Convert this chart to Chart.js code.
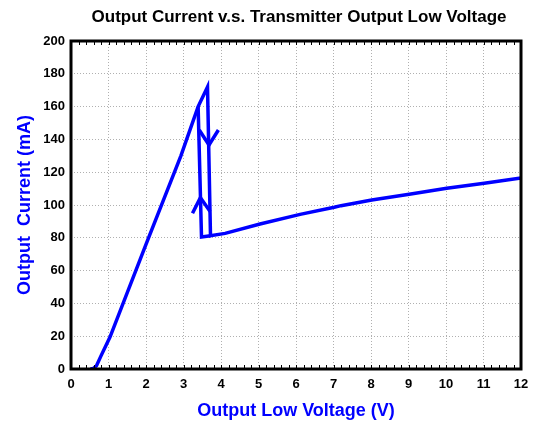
<!DOCTYPE html>
<html>
<head>
<meta charset="utf-8">
<script src="https://cdn.jsdelivr.net/npm/chart.js@4/dist/chart.umd.min.js"></script>
<style>
  html, body { margin: 0; padding: 0; background: #fff; }
  #wrap { width: 537px; height: 425px; }
</style>
</head>
<body>
<div id="wrap"><canvas id="c" width="537" height="425"></canvas></div>
<script>
// ---- data ----
const titleText = "Output Current v.s. Transmitter Output Low Voltage";
const xTitle = "Output Low Voltage (V)";
const yTitle = "Output  Current (mA)";
const xTicks = [0,1,2,3,4,5,6,7,8,9,10,11,12];
const yTicks = [0,20,40,60,80,100,120,140,160,180,200];

// main curve: rise, peak, drop, then slow rise
const mainV = [0.52, 0.60, 0.68, 0.80, 1.04, 2.00, 2.93, 3.39, 3.64, 3.72, 4.11, 5.04, 6.11, 7.02, 7.20, 8.02, 9.02, 10.02, 11.02, 12.00];
const mainI = [0.0, 0.4, 2.0, 8.0, 19.5, 76.0, 130.0, 160.0, 172.0, 81.3, 82.7, 88.4, 94.3, 98.6, 99.6, 103.1, 106.5, 110.2, 113.2, 116.5];
// left (return) branch
const leftV = [3.39, 3.48, 3.72];
const leftI = [160.0, 80.5, 81.3];
// arrow heads
const upArrowV = [3.24, 3.45, 3.71];
const upArrowI = [95.0, 104.5, 96.0];
const downArrowV = [3.42, 3.68, 3.93];
const downArrowI = [145.7, 136.6, 145.7];

const toXY = (xs, ys) => xs.map((x, i) => ({x: x, y: ys[i]}));
const BLUE = '#0000ff';
const FONT = "'Liberation Sans', Arial, sans-serif";

function ds(xs, ys) {
  return {
    data: toXY(xs, ys),
    showLine: true,
    borderColor: BLUE,
    backgroundColor: BLUE,
    borderWidth: 3.5,
    pointRadius: 0,
    tension: 0,
    fill: false
  };
}

const framePlugin = {
  id: 'frame',
  afterDraw(chart) {
    const {ctx, chartArea: a, scales} = chart;
    const xs = scales.x;
    ctx.save();
    // minor ticks on top and bottom edges
    ctx.strokeStyle = '#000';
    ctx.lineWidth = 1;
    ctx.beginPath();
    for (let k = 0; k <= 60; k++) {
      const v = k * 0.2;
      const px = Math.round(xs.getPixelForValue(v)) + 0.5;
      ctx.moveTo(px, a.bottom); ctx.lineTo(px, a.bottom - 4);
      ctx.moveTo(px, a.top); ctx.lineTo(px, a.top + 4);
    }
    ctx.stroke();
    // frame
    ctx.lineWidth = 3;
    ctx.strokeRect(a.left, a.top, a.right - a.left, a.bottom - a.top);
    // title
    ctx.fillStyle = '#000';
    ctx.font = "bold 17px " + FONT;
    ctx.textAlign = 'center';
    ctx.textBaseline = 'middle';
    ctx.fillText(titleText, (a.left + a.right) / 2 + 3, 17);
    ctx.restore();
  }
};

new Chart(document.getElementById('c'), {
  type: 'scatter',
  data: {
    datasets: [
      ds(mainV, mainI),
      ds(leftV, leftI),
      ds(upArrowV, upArrowI),
      ds(downArrowV, downArrowI)
    ]
  },
  options: {
    responsive: false,
    animation: false,
    devicePixelRatio: 1,
    layout: { padding: { top: 41, right: 16, bottom: 0, left: 0 } },
    plugins: {
      legend: { display: false },
      title: { display: false },
      tooltip: { enabled: false }
    },
    scales: {
      x: {
        type: 'linear',
        min: 0, max: 12,
        afterBuildTicks(scale) { scale.ticks = xTicks.map(v => ({value: v})); },
        afterFit(scale) { scale.height = 56; },
        ticks: {
          color: '#000',
          font: { family: FONT, size: 13, weight: 'bold' },
          padding: 8,
          maxRotation: 0,
          autoSkip: false
        },
        grid: {
          color: '#b0b0b0',
          lineWidth: 1,
          drawTicks: false
        },
        border: { display: false, dash: [1, 2] },
        title: {
          display: true,
          text: xTitle,
          color: BLUE,
          font: { family: FONT, size: 18, weight: 'bold' },
          padding: { top: 3, bottom: 3 }
        }
      },
      y: {
        type: 'linear',
        min: 0, max: 200,
        afterBuildTicks(scale) { scale.ticks = yTicks.map(v => ({value: v})); },
        afterFit(scale) { scale.width = 71; },
        ticks: {
          color: '#000',
          font: { family: FONT, size: 13, weight: 'bold' },
          padding: 6,
          autoSkip: false
        },
        grid: {
          color: '#b0b0b0',
          lineWidth: 1,
          drawTicks: false
        },
        border: { display: false, dash: [1, 2] },
        title: {
          display: true,
          text: yTitle,
          color: BLUE,
          font: { family: FONT, size: 18, weight: 'bold' },
          padding: { top: 14, bottom: 14 }
        }
      }
    }
  },
  plugins: [framePlugin]
});
</script>
</body>
</html>
